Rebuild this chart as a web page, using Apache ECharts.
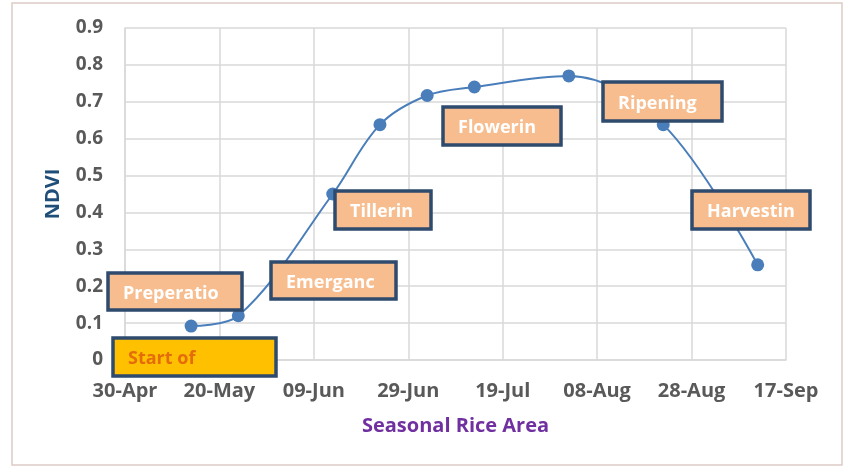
<!DOCTYPE html>
<html>
<head>
<meta charset="utf-8">
<script src="https://cdn.jsdelivr.net/npm/echarts@6/dist/echarts.min.js"></script>
<style>
html,body{margin:0;padding:0;background:#fff;}
#chart{width:849px;height:474px;}
</style>
</head>
<body>
<div id="chart"></div>
<script>
// ---- data ----
const startDate = '2019-04-30';
const endDate = '2019-09-17';
const obsDates = ['2019-05-14','2019-05-24','2019-06-13','2019-06-23','2019-07-03','2019-07-13','2019-08-02','2019-08-22','2019-09-11'];
const ndviValues = [0.092, 0.12, 0.45, 0.638, 0.717, 0.74, 0.77, 0.638, 0.258];
const yTicks = [0, 0.1, 0.2, 0.3, 0.4, 0.5, 0.6, 0.7, 0.8, 0.9];
const stageLabels = ['Preperatio', 'Start of', 'Emerganc', 'Tillerin', 'Flowerin', 'Ripening', 'Harvestin'];
const xTitle = 'Seasonal Rice Area';
const yTitle = 'NDVI';

// ---- helpers ----
const DAY = 86400000;
const t0 = Date.parse(startDate + 'T00:00:00Z');
const dayOf = s => Math.round((Date.parse(s + 'T00:00:00Z') - t0) / DAY);
const months = ['Jan','Feb','Mar','Apr','May','Jun','Jul','Aug','Sep','Oct','Nov','Dec'];
const fmtDay = d => {
  const dt = new Date(t0 + d * DAY);
  const dd = String(dt.getUTCDate()).padStart(2, '0');
  return dd + '-' + months[dt.getUTCMonth()];
};
const seriesData = obsDates.map((d, i) => [dayOf(d), ndviValues[i]]);

const FONT = '"Open Sans"';
const chart = echarts.init(document.getElementById('chart'), null, {renderer: 'canvas'});

// annotation boxes (pixel layout)
const boxes = [
  {t: stageLabels[0], x: 108, y: 273, w: 134, h: 37, fill: '#F8BD8E', color: '#ffffff'},
  {t: stageLabels[1], x: 113, y: 338, w: 163, h: 38, fill: '#FFC000', color: '#E46C0A'},
  {t: stageLabels[2], x: 271, y: 262, w: 125, h: 37, fill: '#F8BD8E', color: '#ffffff'},
  {t: stageLabels[3], x: 335, y: 191, w: 96,  h: 38, fill: '#F8BD8E', color: '#ffffff'},
  {t: stageLabels[4], x: 443, y: 107, w: 118, h: 38, fill: '#F8BD8E', color: '#ffffff'},
  {t: stageLabels[5], x: 603, y: 82,  w: 119, h: 39, fill: '#F8BD8E', color: '#ffffff'},
  {t: stageLabels[6], x: 692, y: 191, w: 118, h: 38, fill: '#F8BD8E', color: '#ffffff'}
];
const graphics = [{
  type: 'rect', z: -10, silent: true,
  shape: {x: 12, y: 3, width: 830, height: 462},
  style: {fill: 'none', stroke: '#dccac6', lineWidth: 1.5}
}];
boxes.forEach(b => {
  graphics.push({
    type: 'rect', z: 100,
    shape: {x: b.x, y: b.y, width: b.w, height: b.h},
    style: {fill: b.fill, stroke: '#2E4A6D', lineWidth: 3.5}
  });
  graphics.push({
    type: 'text', z: 101, x: b.x + 15, y: b.y + b.h / 2 + 2,
    style: {text: b.t, fill: b.color, font: 'bold 18px ' + FONT, verticalAlign: 'middle', align: 'left'}
  });
});

chart.setOption({
  backgroundColor: '#ffffff',
  animation: false,
  grid: {left: 125, right: 63, top: 28, bottom: 114, containLabel: false},
  xAxis: {
    type: 'value', min: 0, max: dayOf(endDate), interval: 20,
    axisLine: {show: true, lineStyle: {color: '#d9d9d9', width: 1.5}},
    axisTick: {show: false},
    splitLine: {show: true, lineStyle: {color: '#d9d9d9', width: 1.5}},
    axisLabel: {formatter: v => fmtDay(v), color: '#595959', fontFamily: FONT, fontWeight: 'bold', fontSize: 20, margin: 21, showMaxLabel: true, showMinLabel: true},
    name: xTitle, nameLocation: 'middle', nameGap: 56,
    nameTextStyle: {color: '#7030A0', fontFamily: FONT, fontWeight: 'bold', fontSize: 20}
  },
  yAxis: {
    type: 'value', min: yTicks[0], max: yTicks[yTicks.length - 1], interval: 0.1,
    axisLine: {show: true, lineStyle: {color: '#d9d9d9', width: 1.5}},
    axisTick: {show: false},
    splitLine: {show: true, lineStyle: {color: '#d9d9d9', width: 1.5}},
    axisLabel: {formatter: v => String(Math.round(v * 10) / 10), color: '#595959', fontFamily: FONT, fontWeight: 'bold', fontSize: 19, margin: 22},
    name: yTitle, nameLocation: 'middle', nameGap: 62, nameRotate: 90,
    nameTextStyle: {color: '#1F4E79', fontFamily: FONT, fontWeight: 'bold', fontSize: 20}
  },
  series: [{
    type: 'line', data: seriesData, smooth: 0.35,
    symbol: 'circle', symbolSize: 13,
    lineStyle: {color: '#4A7EBB', width: 2},
    itemStyle: {color: '#4A7EBB'},
    z: 5
  }],
  graphic: graphics
});
</script>
</body>
</html>
